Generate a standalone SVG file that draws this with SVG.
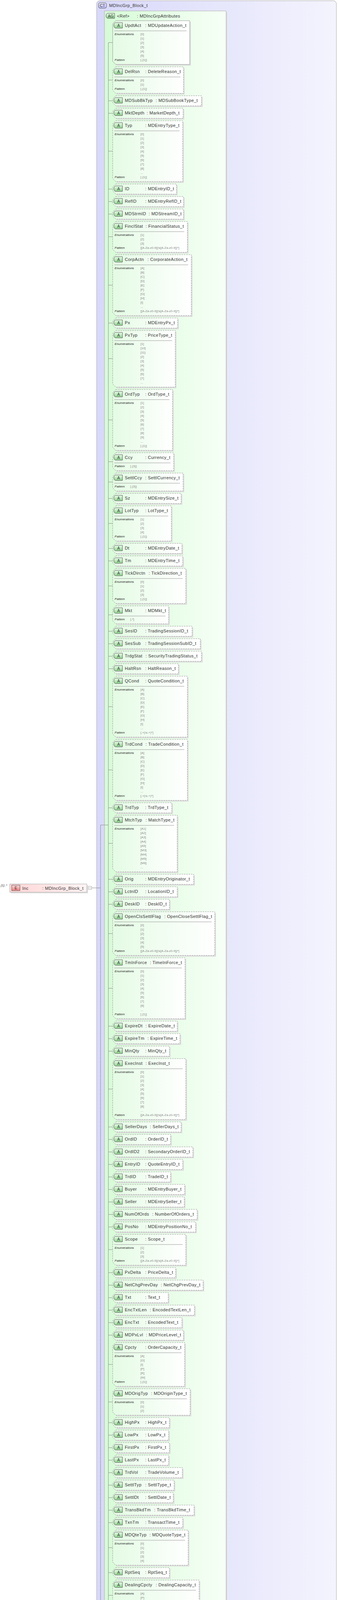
<svg xmlns="http://www.w3.org/2000/svg" xmlns:xlink="http://www.w3.org/1999/xlink" width="864" height="4548" viewBox="0 0 864 4548">
<style>
text{font-family:"Liberation Sans",Arial,sans-serif}
.t{font-size:11px;letter-spacing:.4px;fill:#333}
.l{font-size:8px;font-style:italic;fill:#222}
.v{font-size:8px;fill:#888}
.c{font-size:8px;font-style:italic;fill:#333}
.bt{font-size:10px;fill:#333;text-anchor:middle}
.bx{fill:url(#gw);stroke:#999;stroke-dasharray:4 2}
.bs{fill:url(#gw);stroke:#999}
.sh{fill:#dedede}
.sp{stroke:#999}
.ln{fill:none;stroke:#888}
.ex{fill:url(#gpk);stroke:#999;stroke-dasharray:4 2}
.pb{fill:#fff;stroke:#aaa}
</style>
<defs>
<linearGradient id="gw" x1="0" x2="1" y1="0" y2="0"><stop offset="0" stop-color="#e4fbe4"/><stop offset="1" stop-color="#ffffff"/></linearGradient>
<linearGradient id="gg" x1="0" x2="0" y1="0" y2="1"><stop offset="0" stop-color="#e8ffe8"/><stop offset="1" stop-color="#8fd08f"/></linearGradient>
<linearGradient id="gag" x1="0" x2="1" y1="0" y2="0"><stop offset="0" stop-color="#d6fbd6"/><stop offset="1" stop-color="#f7fff7"/></linearGradient>
<linearGradient id="gct" x1="0" x2="1" y1="0" y2="0"><stop offset="0" stop-color="#d8d8fa"/><stop offset="1" stop-color="#f4f4fe"/></linearGradient>
<linearGradient id="gcb" x1="0" x2="0" y1="0" y2="1"><stop offset="0" stop-color="#eeeeff"/><stop offset="1" stop-color="#b8b8f0"/></linearGradient>
<linearGradient id="gp" x1="0" x2="1" y1="0" y2="0"><stop offset="0" stop-color="#ffd6d6"/><stop offset="1" stop-color="#fff4f4"/></linearGradient>
<linearGradient id="gpk" x1="0" x2="1" y1="0" y2="0"><stop offset="0" stop-color="#ffe4e4"/><stop offset="1" stop-color="#ffffff"/></linearGradient>
<linearGradient id="gpb" x1="0" x2="0" y1="0" y2="1"><stop offset="0" stop-color="#ffdada"/><stop offset="1" stop-color="#f08080"/></linearGradient>
<linearGradient id="gs" x1="0" x2="1" y1="0" y2="0"><stop offset="0" stop-color="#d8d8d8"/><stop offset="1" stop-color="#f6f6f6"/></linearGradient>
<g id="ab"><path d="M296,5H313V19H296Q291,19 291,12Q291,5 296,5Z" fill="url(#gg)" stroke="#555"/><text x="303" y="16" class="bt">A</text></g>
<g id="eb"><rect x="0" y="0" width="21" height="14" fill="url(#gpb)" stroke="#555"/><text x="10.5" y="11" class="bt">E</text></g>
<g id="si"><circle cx="-6" cy="0" r="1.6" fill="#444"/><path d="M-6,0H-1M-1,-6V6M-1,-6H4M-1,0H4M-1,6H4" stroke="#444" fill="none"/><circle cx="4" cy="-6" r="1.6" fill="#444"/><circle cx="4" cy="0" r="1.6" fill="#444"/><circle cx="4" cy="6" r="1.6" fill="#444"/></g>
<g id="plus"><rect class="pb" x="0" y="0" width="8" height="8"/><path d="M2,4H6M4,2V6" stroke="#999"/></g>
</defs>

<g id="ct">
<rect x="247" y="2" width="613" height="4543" rx="8" fill="url(#gct)" stroke="#aaa"/>
<rect x="252" y="7" width="20" height="14" rx="4" fill="url(#gcb)" stroke="#555"/><text x="262" y="18" class="bt">CT</text>
<text class="t" x="279" y="18">MDIncGrp_Block_t</text>
</g>

<g id="inc">
<text class="c" x="2" y="2269">[1]..*</text>
<rect x="28" y="2266" width="197" height="21" fill="#e0e0e0"/>
<rect x="25" y="2263" width="197" height="21" fill="url(#gp)" stroke="#aaa"/>
<use xlink:href="#eb" x="30" y="2266"/>
<text class="t" x="57" y="2278">Inc</text><text class="t" x="108" y="2278">: MDIncGrp_Block_t</text>
<rect class="pb" x="226" y="2269" width="8" height="8"/><path d="M228,2273H232" stroke="#999"/>
</g>

<g id="ag">
<path d="M270,31H581V4200H278L270,4192Z" fill="#dcdcdc"/>
<path d="M267,28H578V4197H275L267,4189Z" fill="url(#gag)" stroke="#aaa"/>
<path d="M276,34H293V47H276Q271,47 271,40.5Q271,34 276,34Z" fill="url(#gg)" stroke="#555"/><text x="283" y="45" class="bt">AG</text>
<text class="t" x="299" y="45">&lt;Ref&gt;</text><text class="t" x="350" y="45">: MDIncGrpAttributes</text>
</g>

<g id="connectors">
<path class="ln" d="M234,2273H257M257,2112V4368M257,2112H277M257,4368H297M326,4368H425M277,109V4175"/>
<path class="ln" d="M277,109H288M277,205H288M277,258H288M277,290H288M277,387H288M277,484H288M277,516H288M277,548H288M277,606H288M277,730H288M277,827H288M277,918H288M277,1075H288M277,1182H288M277,1234H288M277,1276H288M277,1340H288M277,1404H288M277,1436H288M277,1500H288M277,1574H288M277,1616H288M277,1648H288M277,1680H288M277,1712H288M277,1809H288M277,1971H288M277,2068H288M277,2159H288M277,2251H288M277,2283H288M277,2315H288M277,2390H288M277,2530H288M277,2627H288M277,2659H288M277,2691H288M277,2788H288M277,2885H288M277,2917H288M277,2949H288M277,2981H288M277,3013H288M277,3045H288M277,3077H288M277,3109H288M277,3141H288M277,3199H288M277,3258H288M277,3290H288M277,3322H288M277,3354H288M277,3386H288M277,3418H288M277,3493H288M277,3589H288M277,3642H288M277,3674H288M277,3706H288M277,3738H288M277,3770H288M277,3802H288M277,3834H288M277,3866H288M277,3898H288M277,3962H288M277,4026H288M277,4084H288M277,4143H288M277,4175H288"/>
<path class="ln" d="M454,4241H489M454,4273H494M454,4305H494M454,4337H489M454,4368H489M454,4410H488M454,4442H488M454,4474H488M454,4506H488"/>
</g>

<g id="n1" transform="translate(0,53)"><path class="sh" transform="translate(3,3)" d="M296,0H485V112H296L288,104V8Z"/><path class="bs" d="M296,0H485V112H296L288,104V8Z"/><use xlink:href="#ab"/><text class="t" x="319" y="16">UpdtAct</text><text class="t" x="371" y="16">: MDUpdateAction_t</text><line class="sp" x1="292" y1="26" x2="477" y2="26"/><text class="l" x="293" y="37">Enumerations</text><text class="v" x="359" y="37">[0]<tspan x="359" dy="11">[1]</tspan><tspan x="359" dy="11">[2]</tspan><tspan x="359" dy="11">[3]</tspan><tspan x="359" dy="11">[4]</tspan><tspan x="359" dy="11">[5]</tspan></text><text class="l" x="293" y="103">Pattern</text><text class="v" x="359" y="103">[.{1}]</text></g>

<g id="n2" transform="translate(0,171)"><path class="sh" transform="translate(3,3)" d="M296,0H469V68H296L288,60V8Z"/><path class="bx" d="M296,0H469V68H296L288,60V8Z"/><use xlink:href="#ab"/><text class="t" x="319" y="16">DelRsn</text><text class="t" x="371" y="16">: DeleteReason_t</text><line class="sp" x1="292" y1="26" x2="461" y2="26"/><text class="l" x="293" y="37">Enumerations</text><text class="v" x="359" y="37">[0]<tspan x="359" dy="11">[1]</tspan></text><text class="l" x="293" y="59">Pattern</text><text class="v" x="359" y="59">[.{1}]</text></g>

<g id="n3" transform="translate(0,245)"><path class="sh" transform="translate(3,3)" d="M296,0H515V26H296L288,18V8Z"/><path class="bx" d="M296,0H515V26H296L288,18V8Z"/><use xlink:href="#ab"/><text class="t" x="319" y="16">MDSubBkTyp</text><text class="t" x="398" y="16">: MDSubBookType_t</text></g>
<g id="n4" transform="translate(0,277)"><path class="sh" transform="translate(3,3)" d="M296,0H468V26H296L288,18V8Z"/><path class="bx" d="M296,0H468V26H296L288,18V8Z"/><use xlink:href="#ab"/><text class="t" x="319" y="16">MktDepth</text><text class="t" x="375" y="16">: MarketDepth_t</text></g>

<g id="n5" transform="translate(0,309)"><path class="sh" transform="translate(3,3)" d="M296,0H467V156H296L288,148V8Z"/><path class="bx" d="M296,0H467V156H296L288,148V8Z"/><use xlink:href="#ab"/><text class="t" x="319" y="16">Typ</text><text class="t" x="371" y="16">: MDEntryType_t</text><line class="sp" x1="292" y1="26" x2="459" y2="26"/><text class="l" x="293" y="37">Enumerations</text><text class="v" x="359" y="37">[0]<tspan x="359" dy="11">[1]</tspan><tspan x="359" dy="11">[2]</tspan><tspan x="359" dy="11">[3]</tspan><tspan x="359" dy="11">[4]</tspan><tspan x="359" dy="11">[5]</tspan><tspan x="359" dy="11">[6]</tspan><tspan x="359" dy="11">[7]</tspan><tspan x="359" dy="11">[8]</tspan><tspan x="359" dy="11">...</tspan></text><text class="l" x="293" y="147">Pattern</text><text class="v" x="359" y="147">[.{1}]</text></g>

<g id="n6" transform="translate(0,471)"><path class="sh" transform="translate(3,3)" d="M296,0H451V26H296L288,18V8Z"/><path class="bx" d="M296,0H451V26H296L288,18V8Z"/><use xlink:href="#ab"/><text class="t" x="319" y="16">ID</text><text class="t" x="371" y="16">: MDEntryID_t</text></g>
<g id="n7" transform="translate(0,503)"><path class="sh" transform="translate(3,3)" d="M296,0H469V26H296L288,18V8Z"/><path class="bx" d="M296,0H469V26H296L288,18V8Z"/><use xlink:href="#ab"/><text class="t" x="319" y="16">RefID</text><text class="t" x="371" y="16">: MDEntryRefID_t</text></g>
<g id="n8" transform="translate(0,535)"><path class="sh" transform="translate(3,3)" d="M296,0H469V26H296L288,18V8Z"/><path class="bx" d="M296,0H469V26H296L288,18V8Z"/><use xlink:href="#ab"/><text class="t" x="319" y="16">MDStrmID</text><text class="t" x="380" y="16">: MDStreamID_t</text></g>

<g id="n9" transform="translate(0,567)"><path class="sh" transform="translate(3,3)" d="M296,0H479V79H296L288,71V8Z"/><path class="bx" d="M296,0H479V79H296L288,71V8Z"/><use xlink:href="#ab"/><text class="t" x="319" y="16">FinclStat</text><text class="t" x="372" y="16">: FinancialStatus_t</text><line class="sp" x1="292" y1="26" x2="471" y2="26"/><text class="l" x="293" y="37">Enumerations</text><text class="v" x="359" y="37">[1]<tspan x="359" dy="11">[2]</tspan><tspan x="359" dy="11">[3]</tspan></text><text class="l" x="293" y="70">Pattern</text><text class="v" x="359" y="70">[[A-Za-z0-9](\s[A-Za-z0-9])*]</text></g>

<g id="n10" transform="translate(0,652)"><path class="sh" transform="translate(3,3)" d="M296,0H489V156H296L288,148V8Z"/><path class="bx" d="M296,0H489V156H296L288,148V8Z"/><use xlink:href="#ab"/><text class="t" x="319" y="16">CorpActn</text><text class="t" x="377" y="16">: CorporateAction_t</text><line class="sp" x1="292" y1="26" x2="481" y2="26"/><text class="l" x="293" y="37">Enumerations</text><text class="v" x="359" y="37">[A]<tspan x="359" dy="11">[B]</tspan><tspan x="359" dy="11">[C]</tspan><tspan x="359" dy="11">[D]</tspan><tspan x="359" dy="11">[E]</tspan><tspan x="359" dy="11">[F]</tspan><tspan x="359" dy="11">[G]</tspan><tspan x="359" dy="11">[H]</tspan><tspan x="359" dy="11">[I]</tspan><tspan x="359" dy="11">...</tspan></text><text class="l" x="293" y="147">Pattern</text><text class="v" x="359" y="147">[[A-Za-z0-9](\s[A-Za-z0-9])*]</text></g>

<g id="n11" transform="translate(0,814)"><path class="sh" transform="translate(3,3)" d="M296,0H454V26H296L288,18V8Z"/><path class="bx" d="M296,0H454V26H296L288,18V8Z"/><use xlink:href="#ab"/><text class="t" x="319" y="16">Px</text><text class="t" x="371" y="16">: MDEntryPx_t</text></g>

<g id="n12" transform="translate(0,846)"><path class="sh" transform="translate(3,3)" d="M296,0H448V145H296L288,137V8Z"/><path class="bx" d="M296,0H448V145H296L288,137V8Z"/><use xlink:href="#ab"/><text class="t" x="319" y="16">PxTyp</text><text class="t" x="371" y="16">: PriceType_t</text><line class="sp" x1="292" y1="26" x2="440" y2="26"/><text class="l" x="293" y="37">Enumerations</text><text class="v" x="359" y="37">[1]<tspan x="359" dy="11">[10]</tspan><tspan x="359" dy="11">[11]</tspan><tspan x="359" dy="11">[2]</tspan><tspan x="359" dy="11">[3]</tspan><tspan x="359" dy="11">[4]</tspan><tspan x="359" dy="11">[5]</tspan><tspan x="359" dy="11">[6]</tspan><tspan x="359" dy="11">[7]</tspan><tspan x="359" dy="11">...</tspan></text></g>

<g id="n13" transform="translate(0,997)"><path class="sh" transform="translate(3,3)" d="M296,0H441V156H296L288,148V8Z"/><path class="bx" d="M296,0H441V156H296L288,148V8Z"/><use xlink:href="#ab"/><text class="t" x="319" y="16">OrdTyp</text><text class="t" x="371" y="16">: OrdType_t</text><line class="sp" x1="292" y1="26" x2="433" y2="26"/><text class="l" x="293" y="37">Enumerations</text><text class="v" x="359" y="37">[1]<tspan x="359" dy="11">[2]</tspan><tspan x="359" dy="11">[3]</tspan><tspan x="359" dy="11">[4]</tspan><tspan x="359" dy="11">[5]</tspan><tspan x="359" dy="11">[6]</tspan><tspan x="359" dy="11">[7]</tspan><tspan x="359" dy="11">[8]</tspan><tspan x="359" dy="11">[9]</tspan><tspan x="359" dy="11">...</tspan></text><text class="l" x="293" y="147">Pattern</text><text class="v" x="359" y="147">[.{1}]</text></g>

<g id="n14" transform="translate(0,1159)"><path class="sh" transform="translate(3,3)" d="M296,0H444V46H296L288,38V8Z"/><path class="bx" d="M296,0H444V46H296L288,38V8Z"/><use xlink:href="#ab"/><text class="t" x="319" y="16">Ccy</text><text class="t" x="371" y="16">: Currency_t</text><line class="sp" x1="292" y1="26" x2="436" y2="26"/><text class="l" x="293" y="37">Pattern</text><text class="v" x="333" y="37">[.{3}]</text></g>
<g id="n15" transform="translate(0,1211)"><path class="sh" transform="translate(3,3)" d="M296,0H468V46H296L288,38V8Z"/><path class="bx" d="M296,0H468V46H296L288,38V8Z"/><use xlink:href="#ab"/><text class="t" x="319" y="16">SettlCcy</text><text class="t" x="371" y="16">: SettlCurrency_t</text><line class="sp" x1="292" y1="26" x2="460" y2="26"/><text class="l" x="293" y="37">Pattern</text><text class="v" x="333" y="37">[.{3}]</text></g>
<g id="n16" transform="translate(0,1263)"><path class="sh" transform="translate(3,3)" d="M296,0H463V26H296L288,18V8Z"/><path class="bx" d="M296,0H463V26H296L288,18V8Z"/><use xlink:href="#ab"/><text class="t" x="319" y="16">Sz</text><text class="t" x="371" y="16">: MDEntrySize_t</text></g>

<g id="n17" transform="translate(0,1295)"><path class="sh" transform="translate(3,3)" d="M296,0H438V90H296L288,82V8Z"/><path class="bx" d="M296,0H438V90H296L288,82V8Z"/><use xlink:href="#ab"/><text class="t" x="319" y="16">LotTyp</text><text class="t" x="371" y="16">: LotType_t</text><line class="sp" x1="292" y1="26" x2="430" y2="26"/><text class="l" x="293" y="37">Enumerations</text><text class="v" x="359" y="37">[1]<tspan x="359" dy="11">[2]</tspan><tspan x="359" dy="11">[3]</tspan><tspan x="359" dy="11">[4]</tspan></text><text class="l" x="293" y="81">Pattern</text><text class="v" x="359" y="81">[.{1}]</text></g>
<g id="n18" transform="translate(0,1391)"><path class="sh" transform="translate(3,3)" d="M296,0H465V26H296L288,18V8Z"/><path class="bx" d="M296,0H465V26H296L288,18V8Z"/><use xlink:href="#ab"/><text class="t" x="319" y="16">Dt</text><text class="t" x="371" y="16">: MDEntryDate_t</text></g>
<g id="n19" transform="translate(0,1423)"><path class="sh" transform="translate(3,3)" d="M296,0H467V26H296L288,18V8Z"/><path class="bx" d="M296,0H467V26H296L288,18V8Z"/><use xlink:href="#ab"/><text class="t" x="319" y="16">Tm</text><text class="t" x="371" y="16">: MDEntryTime_t</text></g>
<g id="n20" transform="translate(0,1455)"><path class="sh" transform="translate(3,3)" d="M296,0H475V90H296L288,82V8Z"/><path class="bx" d="M296,0H475V90H296L288,82V8Z"/><use xlink:href="#ab"/><text class="t" x="319" y="16">TickDirctn</text><text class="t" x="380" y="16">: TickDirection_t</text><line class="sp" x1="292" y1="26" x2="467" y2="26"/><text class="l" x="293" y="37">Enumerations</text><text class="v" x="359" y="37">[0]<tspan x="359" dy="11">[1]</tspan><tspan x="359" dy="11">[2]</tspan><tspan x="359" dy="11">[3]</tspan></text><text class="l" x="293" y="81">Pattern</text><text class="v" x="359" y="81">[.{1}]</text></g>
<g id="n21" transform="translate(0,1551)"><path class="sh" transform="translate(3,3)" d="M296,0H431V46H296L288,38V8Z"/><path class="bx" d="M296,0H431V46H296L288,38V8Z"/><use xlink:href="#ab"/><text class="t" x="319" y="16">Mkt</text><text class="t" x="371" y="16">: MDMkt_t</text><line class="sp" x1="292" y1="26" x2="423" y2="26"/><text class="l" x="293" y="37">Pattern</text><text class="v" x="333" y="37">[.*]</text></g>
<g id="n22" transform="translate(0,1603)"><path class="sh" transform="translate(3,3)" d="M296,0H491V26H296L288,18V8Z"/><path class="bx" d="M296,0H491V26H296L288,18V8Z"/><use xlink:href="#ab"/><text class="t" x="319" y="16">SesID</text><text class="t" x="371" y="16">: TradingSessionID_t</text></g>
<g id="n23" transform="translate(0,1635)"><path class="sh" transform="translate(3,3)" d="M296,0H512V26H296L288,18V8Z"/><path class="bx" d="M296,0H512V26H296L288,18V8Z"/><use xlink:href="#ab"/><text class="t" x="319" y="16">SesSub</text><text class="t" x="371" y="16">: TradingSessionSubID_t</text></g>
<g id="n24" transform="translate(0,1667)"><path class="sh" transform="translate(3,3)" d="M296,0H515V26H296L288,18V8Z"/><path class="bx" d="M296,0H515V26H296L288,18V8Z"/><use xlink:href="#ab"/><text class="t" x="319" y="16">TrdgStat</text><text class="t" x="372" y="16">: SecurityTradingStatus_t</text></g>
<g id="n25" transform="translate(0,1699)"><path class="sh" transform="translate(3,3)" d="M296,0H456V26H296L288,18V8Z"/><path class="bx" d="M296,0H456V26H296L288,18V8Z"/><use xlink:href="#ab"/><text class="t" x="319" y="16">HaltRsn</text><text class="t" x="371" y="16">: HaltReason_t</text></g>

<g id="n26" transform="translate(0,1731)"><path class="sh" transform="translate(3,3)" d="M296,0H479V156H296L288,148V8Z"/><path class="bx" d="M296,0H479V156H296L288,148V8Z"/><use xlink:href="#ab"/><text class="t" x="319" y="16">QCond</text><text class="t" x="371" y="16">: QuoteCondition_t</text><line class="sp" x1="292" y1="26" x2="471" y2="26"/><text class="l" x="293" y="37">Enumerations</text><text class="v" x="359" y="37">[A]<tspan x="359" dy="11">[B]</tspan><tspan x="359" dy="11">[C]</tspan><tspan x="359" dy="11">[D]</tspan><tspan x="359" dy="11">[E]</tspan><tspan x="359" dy="11">[F]</tspan><tspan x="359" dy="11">[G]</tspan><tspan x="359" dy="11">[H]</tspan><tspan x="359" dy="11">[I]</tspan><tspan x="359" dy="11">...</tspan></text><text class="l" x="293" y="147">Pattern</text><text class="v" x="359" y="147">[.+(\s.+)*]</text></g>
<g id="n27" transform="translate(0,1893)"><path class="sh" transform="translate(3,3)" d="M296,0H479V156H296L288,148V8Z"/><path class="bx" d="M296,0H479V156H296L288,148V8Z"/><use xlink:href="#ab"/><text class="t" x="319" y="16">TrdCond</text><text class="t" x="372" y="16">: TradeCondition_t</text><line class="sp" x1="292" y1="26" x2="471" y2="26"/><text class="l" x="293" y="37">Enumerations</text><text class="v" x="359" y="37">[A]<tspan x="359" dy="11">[B]</tspan><tspan x="359" dy="11">[C]</tspan><tspan x="359" dy="11">[D]</tspan><tspan x="359" dy="11">[E]</tspan><tspan x="359" dy="11">[F]</tspan><tspan x="359" dy="11">[G]</tspan><tspan x="359" dy="11">[H]</tspan><tspan x="359" dy="11">[I]</tspan><tspan x="359" dy="11">...</tspan></text><text class="l" x="293" y="147">Pattern</text><text class="v" x="359" y="147">[.+(\s.+)*]</text></g>
<g id="n28" transform="translate(0,2055)"><path class="sh" transform="translate(3,3)" d="M296,0H439V26H296L288,18V8Z"/><path class="bx" d="M296,0H439V26H296L288,18V8Z"/><use xlink:href="#ab"/><text class="t" x="319" y="16">TrdTyp</text><text class="t" x="371" y="16">: TrdType_t</text></g>
<g id="n29" transform="translate(0,2087)"><path class="sh" transform="translate(3,3)" d="M296,0H453V145H296L288,137V8Z"/><path class="bx" d="M296,0H453V145H296L288,137V8Z"/><use xlink:href="#ab"/><text class="t" x="319" y="16">MtchTyp</text><text class="t" x="372" y="16">: MatchType_t</text><line class="sp" x1="292" y1="26" x2="445" y2="26"/><text class="l" x="293" y="37">Enumerations</text><text class="v" x="359" y="37">[A1]<tspan x="359" dy="11">[A2]</tspan><tspan x="359" dy="11">[A3]</tspan><tspan x="359" dy="11">[A4]</tspan><tspan x="359" dy="11">[A5]</tspan><tspan x="359" dy="11">[M3]</tspan><tspan x="359" dy="11">[M4]</tspan><tspan x="359" dy="11">[M5]</tspan><tspan x="359" dy="11">[M6]</tspan><tspan x="359" dy="11">...</tspan></text></g>
<g id="n30" transform="translate(0,2238)"><path class="sh" transform="translate(3,3)" d="M296,0H495V26H296L288,18V8Z"/><path class="bx" d="M296,0H495V26H296L288,18V8Z"/><use xlink:href="#ab"/><text class="t" x="319" y="16">Orig</text><text class="t" x="371" y="16">: MDEntryOriginator_t</text></g>
<g id="n31" transform="translate(0,2270)"><path class="sh" transform="translate(3,3)" d="M296,0H453V26H296L288,18V8Z"/><path class="bx" d="M296,0H453V26H296L288,18V8Z"/><use xlink:href="#ab"/><text class="t" x="319" y="16">LctnID</text><text class="t" x="371" y="16">: LocationID_t</text></g>
<g id="n32" transform="translate(0,2302)"><path class="sh" transform="translate(3,3)" d="M296,0H433V26H296L288,18V8Z"/><path class="bx" d="M296,0H433V26H296L288,18V8Z"/><use xlink:href="#ab"/><text class="t" x="319" y="16">DeskID</text><text class="t" x="371" y="16">: DeskID_t</text></g>
<g id="n33" transform="translate(0,2334)"><path class="sh" transform="translate(3,3)" d="M296,0H549V112H296L288,104V8Z"/><path class="bx" d="M296,0H549V112H296L288,104V8Z"/><use xlink:href="#ab"/><text class="t" x="319" y="16">OpenClsSettlFlag</text><text class="t" x="420" y="16">: OpenCloseSettlFlag_t</text><line class="sp" x1="292" y1="26" x2="541" y2="26"/><text class="l" x="293" y="37">Enumerations</text><text class="v" x="359" y="37">[0]<tspan x="359" dy="11">[1]</tspan><tspan x="359" dy="11">[2]</tspan><tspan x="359" dy="11">[3]</tspan><tspan x="359" dy="11">[4]</tspan><tspan x="359" dy="11">[5]</tspan></text><text class="l" x="293" y="103">Pattern</text><text class="v" x="359" y="103">[[A-Za-z0-9](\s[A-Za-z0-9])*]</text></g>
<g id="n34" transform="translate(0,2452)"><path class="sh" transform="translate(3,3)" d="M296,0H473V156H296L288,148V8Z"/><path class="bx" d="M296,0H473V156H296L288,148V8Z"/><use xlink:href="#ab"/><text class="t" x="319" y="16">TmInForce</text><text class="t" x="383" y="16">: TimeInForce_t</text><line class="sp" x1="292" y1="26" x2="465" y2="26"/><text class="l" x="293" y="37">Enumerations</text><text class="v" x="359" y="37">[0]<tspan x="359" dy="11">[1]</tspan><tspan x="359" dy="11">[2]</tspan><tspan x="359" dy="11">[3]</tspan><tspan x="359" dy="11">[4]</tspan><tspan x="359" dy="11">[5]</tspan><tspan x="359" dy="11">[6]</tspan><tspan x="359" dy="11">[7]</tspan><tspan x="359" dy="11">[8]</tspan><tspan x="359" dy="11">...</tspan></text><text class="l" x="293" y="147">Pattern</text><text class="v" x="359" y="147">[.{1}]</text></g>
<g id="n35" transform="translate(0,2614)"><path class="sh" transform="translate(3,3)" d="M296,0H453V26H296L288,18V8Z"/><path class="bx" d="M296,0H453V26H296L288,18V8Z"/><use xlink:href="#ab"/><text class="t" x="319" y="16">ExpireDt</text><text class="t" x="372" y="16">: ExpireDate_t</text></g>
<g id="n36" transform="translate(0,2646)"><path class="sh" transform="translate(3,3)" d="M296,0H460V26H296L288,18V8Z"/><path class="bx" d="M296,0H460V26H296L288,18V8Z"/><use xlink:href="#ab"/><text class="t" x="319" y="16">ExpireTm</text><text class="t" x="377" y="16">: ExpireTime_t</text></g>
<g id="n37" transform="translate(0,2678)"><path class="sh" transform="translate(3,3)" d="M296,0H433V26H296L288,18V8Z"/><path class="bx" d="M296,0H433V26H296L288,18V8Z"/><use xlink:href="#ab"/><text class="t" x="319" y="16">MinQty</text><text class="t" x="371" y="16">: MinQty_t</text></g>
<g id="n38" transform="translate(0,2710)"><path class="sh" transform="translate(3,3)" d="M296,0H475V156H296L288,148V8Z"/><path class="bx" d="M296,0H475V156H296L288,148V8Z"/><use xlink:href="#ab"/><text class="t" x="319" y="16">ExecInst</text><text class="t" x="372" y="16">: ExecInst_t</text><line class="sp" x1="292" y1="26" x2="467" y2="26"/><text class="l" x="293" y="37">Enumerations</text><text class="v" x="359" y="37">[0]<tspan x="359" dy="11">[1]</tspan><tspan x="359" dy="11">[2]</tspan><tspan x="359" dy="11">[3]</tspan><tspan x="359" dy="11">[4]</tspan><tspan x="359" dy="11">[5]</tspan><tspan x="359" dy="11">[6]</tspan><tspan x="359" dy="11">[7]</tspan><tspan x="359" dy="11">[8]</tspan><tspan x="359" dy="11">...</tspan></text><text class="l" x="293" y="147">Pattern</text><text class="v" x="359" y="147">[[A-Za-z0-9](\s[A-Za-z0-9])*]</text></g>
<g id="n39" transform="translate(0,2872)"><path class="sh" transform="translate(3,3)" d="M296,0H463V26H296L288,18V8Z"/><path class="bx" d="M296,0H463V26H296L288,18V8Z"/><use xlink:href="#ab"/><text class="t" x="319" y="16">SellerDays</text><text class="t" x="383" y="16">: SellerDays_t</text></g>
<g id="n40" transform="translate(0,2904)"><path class="sh" transform="translate(3,3)" d="M296,0H436V26H296L288,18V8Z"/><path class="bx" d="M296,0H436V26H296L288,18V8Z"/><use xlink:href="#ab"/><text class="t" x="319" y="16">OrdID</text><text class="t" x="371" y="16">: OrderID_t</text></g>
<g id="n41" transform="translate(0,2936)"><path class="sh" transform="translate(3,3)" d="M296,0H493V26H296L288,18V8Z"/><path class="bx" d="M296,0H493V26H296L288,18V8Z"/><use xlink:href="#ab"/><text class="t" x="319" y="16">OrdID2</text><text class="t" x="371" y="16">: SecondaryOrderID_t</text></g>
<g id="n42" transform="translate(0,2968)"><path class="sh" transform="translate(3,3)" d="M296,0H467V26H296L288,18V8Z"/><path class="bx" d="M296,0H467V26H296L288,18V8Z"/><use xlink:href="#ab"/><text class="t" x="319" y="16">EntryID</text><text class="t" x="371" y="16">: QuoteEntryID_t</text></g>
<g id="n43" transform="translate(0,3000)"><path class="sh" transform="translate(3,3)" d="M296,0H436V26H296L288,18V8Z"/><path class="bx" d="M296,0H436V26H296L288,18V8Z"/><use xlink:href="#ab"/><text class="t" x="319" y="16">TrdID</text><text class="t" x="371" y="16">: TradeID_t</text></g>
<g id="n44" transform="translate(0,3032)"><path class="sh" transform="translate(3,3)" d="M296,0H472V26H296L288,18V8Z"/><path class="bx" d="M296,0H472V26H296L288,18V8Z"/><use xlink:href="#ab"/><text class="t" x="319" y="16">Buyer</text><text class="t" x="371" y="16">: MDEntryBuyer_t</text></g>
<g id="n45" transform="translate(0,3064)"><path class="sh" transform="translate(3,3)" d="M296,0H471V26H296L288,18V8Z"/><path class="bx" d="M296,0H471V26H296L288,18V8Z"/><use xlink:href="#ab"/><text class="t" x="319" y="16">Seller</text><text class="t" x="371" y="16">: MDEntrySeller_t</text></g>
<g id="n46" transform="translate(0,3096)"><path class="sh" transform="translate(3,3)" d="M296,0H504V26H296L288,18V8Z"/><path class="bx" d="M296,0H504V26H296L288,18V8Z"/><use xlink:href="#ab"/><text class="t" x="319" y="16">NumOfOrds</text><text class="t" x="389" y="16">: NumberOfOrders_t</text></g>
<g id="n47" transform="translate(0,3128)"><path class="sh" transform="translate(3,3)" d="M296,0H500V26H296L288,18V8Z"/><path class="bx" d="M296,0H500V26H296L288,18V8Z"/><use xlink:href="#ab"/><text class="t" x="319" y="16">PosNo</text><text class="t" x="371" y="16">: MDEntryPositionNo_t</text></g>
<g id="n48" transform="translate(0,3160)"><path class="sh" transform="translate(3,3)" d="M296,0H475V79H296L288,71V8Z"/><path class="bx" d="M296,0H475V79H296L288,71V8Z"/><use xlink:href="#ab"/><text class="t" x="319" y="16">Scope</text><text class="t" x="371" y="16">: Scope_t</text><line class="sp" x1="292" y1="26" x2="467" y2="26"/><text class="l" x="293" y="37">Enumerations</text><text class="v" x="359" y="37">[1]<tspan x="359" dy="11">[2]</tspan><tspan x="359" dy="11">[3]</tspan></text><text class="l" x="293" y="70">Pattern</text><text class="v" x="359" y="70">[[A-Za-z0-9](\s[A-Za-z0-9])*]</text></g>
<g id="n49" transform="translate(0,3245)"><path class="sh" transform="translate(3,3)" d="M296,0H449V26H296L288,18V8Z"/><path class="bx" d="M296,0H449V26H296L288,18V8Z"/><use xlink:href="#ab"/><text class="t" x="319" y="16">PxDelta</text><text class="t" x="371" y="16">: PriceDelta_t</text></g>
<g id="n50" transform="translate(0,3277)"><path class="sh" transform="translate(3,3)" d="M296,0H519V26H296L288,18V8Z"/><path class="bx" d="M296,0H519V26H296L288,18V8Z"/><use xlink:href="#ab"/><text class="t" x="319" y="16">NetChgPrevDay</text><text class="t" x="411" y="16">: NetChgPrevDay_t</text></g>
<g id="n51" transform="translate(0,3309)"><path class="sh" transform="translate(3,3)" d="M296,0H430V26H296L288,18V8Z"/><path class="bx" d="M296,0H430V26H296L288,18V8Z"/><use xlink:href="#ab"/><text class="t" x="319" y="16">Txt</text><text class="t" x="371" y="16">: Text_t</text></g>
<g id="n52" transform="translate(0,3341)"><path class="sh" transform="translate(3,3)" d="M296,0H497V26H296L288,18V8Z"/><path class="bx" d="M296,0H497V26H296L288,18V8Z"/><use xlink:href="#ab"/><text class="t" x="319" y="16">EncTxtLen</text><text class="t" x="383" y="16">: EncodedTextLen_t</text></g>
<g id="n53" transform="translate(0,3373)"><path class="sh" transform="translate(3,3)" d="M296,0H465V26H296L288,18V8Z"/><path class="bx" d="M296,0H465V26H296L288,18V8Z"/><use xlink:href="#ab"/><text class="t" x="319" y="16">EncTxt</text><text class="t" x="371" y="16">: EncodedText_t</text></g>
<g id="n54" transform="translate(0,3405)"><path class="sh" transform="translate(3,3)" d="M296,0H469V26H296L288,18V8Z"/><path class="bx" d="M296,0H469V26H296L288,18V8Z"/><use xlink:href="#ab"/><text class="t" x="319" y="16">MDPxLvl</text><text class="t" x="373" y="16">: MDPriceLevel_t</text></g>
<g id="n55" transform="translate(0,3437)"><path class="sh" transform="translate(3,3)" d="M296,0H472V112H296L288,104V8Z"/><path class="bx" d="M296,0H472V112H296L288,104V8Z"/><use xlink:href="#ab"/><text class="t" x="319" y="16">Cpcty</text><text class="t" x="371" y="16">: OrderCapacity_t</text><line class="sp" x1="292" y1="26" x2="464" y2="26"/><text class="l" x="293" y="37">Enumerations</text><text class="v" x="359" y="37">[A]<tspan x="359" dy="11">[G]</tspan><tspan x="359" dy="11">[I]</tspan><tspan x="359" dy="11">[P]</tspan><tspan x="359" dy="11">[R]</tspan><tspan x="359" dy="11">[W]</tspan></text><text class="l" x="293" y="103">Pattern</text><text class="v" x="359" y="103">[.{1}]</text></g>
<g id="n56" transform="translate(0,3555)"><path class="sh" transform="translate(3,3)" d="M296,0H486V68H296L288,60V8Z"/><path class="bx" d="M296,0H486V68H296L288,60V8Z"/><use xlink:href="#ab"/><text class="t" x="319" y="16">MDOrigTyp</text><text class="t" x="386" y="16">: MDOriginType_t</text><line class="sp" x1="292" y1="26" x2="478" y2="26"/><text class="l" x="293" y="37">Enumerations</text><text class="v" x="359" y="37">[0]<tspan x="359" dy="11">[1]</tspan><tspan x="359" dy="11">[2]</tspan></text></g>
<g id="n57" transform="translate(0,3629)"><path class="sh" transform="translate(3,3)" d="M296,0H433V26H296L288,18V8Z"/><path class="bx" d="M296,0H433V26H296L288,18V8Z"/><use xlink:href="#ab"/><text class="t" x="319" y="16">HighPx</text><text class="t" x="371" y="16">: HighPx_t</text></g>
<g id="n58" transform="translate(0,3661)"><path class="sh" transform="translate(3,3)" d="M296,0H431V26H296L288,18V8Z"/><path class="bx" d="M296,0H431V26H296L288,18V8Z"/><use xlink:href="#ab"/><text class="t" x="319" y="16">LowPx</text><text class="t" x="371" y="16">: LowPx_t</text></g>
<g id="n59" transform="translate(0,3693)"><path class="sh" transform="translate(3,3)" d="M296,0H433V26H296L288,18V8Z"/><path class="bx" d="M296,0H433V26H296L288,18V8Z"/><use xlink:href="#ab"/><text class="t" x="319" y="16">FirstPx</text><text class="t" x="371" y="16">: FirstPx_t</text></g>
<g id="n60" transform="translate(0,3725)"><path class="sh" transform="translate(3,3)" d="M296,0H431V26H296L288,18V8Z"/><path class="bx" d="M296,0H431V26H296L288,18V8Z"/><use xlink:href="#ab"/><text class="t" x="319" y="16">LastPx</text><text class="t" x="371" y="16">: LastPx_t</text></g>
<g id="n61" transform="translate(0,3757)"><path class="sh" transform="translate(3,3)" d="M296,0H466V26H296L288,18V8Z"/><path class="bx" d="M296,0H466V26H296L288,18V8Z"/><use xlink:href="#ab"/><text class="t" x="319" y="16">TrdVol</text><text class="t" x="371" y="16">: TradeVolume_t</text></g>
<g id="n62" transform="translate(0,3789)"><path class="sh" transform="translate(3,3)" d="M296,0H445V26H296L288,18V8Z"/><path class="bx" d="M296,0H445V26H296L288,18V8Z"/><use xlink:href="#ab"/><text class="t" x="319" y="16">SettlTyp</text><text class="t" x="371" y="16">: SettlType_t</text></g>
<g id="n63" transform="translate(0,3821)"><path class="sh" transform="translate(3,3)" d="M296,0H443V26H296L288,18V8Z"/><path class="bx" d="M296,0H443V26H296L288,18V8Z"/><use xlink:href="#ab"/><text class="t" x="319" y="16">SettlDt</text><text class="t" x="371" y="16">: SettlDate_t</text></g>
<g id="n64" transform="translate(0,3853)"><path class="sh" transform="translate(3,3)" d="M296,0H496V26H296L288,18V8Z"/><path class="bx" d="M296,0H496V26H296L288,18V8Z"/><use xlink:href="#ab"/><text class="t" x="319" y="16">TransBkdTm</text><text class="t" x="394" y="16">: TransBkdTime_t</text></g>
<g id="n65" transform="translate(0,3885)"><path class="sh" transform="translate(3,3)" d="M296,0H467V26H296L288,18V8Z"/><path class="bx" d="M296,0H467V26H296L288,18V8Z"/><use xlink:href="#ab"/><text class="t" x="319" y="16">TxnTm</text><text class="t" x="371" y="16">: TransactTime_t</text></g>
<g id="n66" transform="translate(0,3917)"><path class="sh" transform="translate(3,3)" d="M296,0H481V90H296L288,82V8Z"/><path class="bx" d="M296,0H481V90H296L288,82V8Z"/><use xlink:href="#ab"/><text class="t" x="319" y="16">MDQteTyp</text><text class="t" x="382" y="16">: MDQuoteType_t</text><line class="sp" x1="292" y1="26" x2="473" y2="26"/><text class="l" x="293" y="37">Enumerations</text><text class="v" x="359" y="37">[0]<tspan x="359" dy="11">[1]</tspan><tspan x="359" dy="11">[2]</tspan><tspan x="359" dy="11">[3]</tspan><tspan x="359" dy="11">[4]</tspan></text></g>
<g id="n67" transform="translate(0,4013)"><path class="sh" transform="translate(3,3)" d="M296,0H433V26H296L288,18V8Z"/><path class="bx" d="M296,0H433V26H296L288,18V8Z"/><use xlink:href="#ab"/><text class="t" x="319" y="16">RptSeq</text><text class="t" x="371" y="16">: RptSeq_t</text></g>
<g id="n68" transform="translate(0,4045)"><path class="sh" transform="translate(3,3)" d="M296,0H509V79H296L288,71V8Z"/><path class="bx" d="M296,0H509V79H296L288,71V8Z"/><use xlink:href="#ab"/><text class="t" x="319" y="16">DealingCpcty</text><text class="t" x="398" y="16">: DealingCapacity_t</text><line class="sp" x1="292" y1="26" x2="501" y2="26"/><text class="l" x="293" y="37">Enumerations</text><text class="v" x="359" y="37">[A]<tspan x="359" dy="11">[P]</tspan><tspan x="359" dy="11">[R]</tspan></text><text class="l" x="293" y="70">Pattern</text><text class="v" x="359" y="70">[.{1}]</text></g>
<g id="n69" transform="translate(0,4130)"><path class="sh" transform="translate(3,3)" d="M296,0H527V26H296L288,18V8Z"/><path class="bx" d="M296,0H527V26H296L288,18V8Z"/><use xlink:href="#ab"/><text class="t" x="319" y="16">MDEntrySpotRt</text><text class="t" x="409" y="16">: MDEntrySpotRate_t</text></g>
<g id="n70" transform="translate(0,4162)"><path class="sh" transform="translate(3,3)" d="M296,0H568V26H296L288,18V8Z"/><path class="bx" d="M296,0H568V26H296L288,18V8Z"/><use xlink:href="#ab"/><text class="t" x="319" y="16">MDEntryFwdPnts</text><text class="t" x="419" y="16">: MDEntryForwardPoints_t</text></g>

<g id="seq1">
<text class="c" x="268" y="4363">[1]..[1]</text>
<rect x="300" y="4359" width="29" height="25" fill="#d8d8d8"/>
<rect x="297" y="4356" width="29" height="25" fill="url(#gs)" stroke="#999"/>
<use xlink:href="#si" x="312" y="4368"/>
</g>

<g id="grp">
<rect x="378" y="4206" width="477" height="330" fill="#dcdcdc"/>
<rect x="375" y="4203" width="477" height="330" fill="url(#gp)" stroke="#aaa"/>
<text class="c" x="345" y="4210">[1]..[1]</text>
<rect x="380" y="4209" width="21" height="14" fill="url(#gpb)" stroke="#555"/><text x="390.5" y="4220" class="bt">G</text>
<text class="t" x="407" y="4220">&lt;Ref&gt;</text><text class="t" x="457" y="4220">: MDIncGrpElements</text>
</g>

<g id="seq2">
<text class="c" x="394" y="4371">[1]..[1]</text>
<rect x="425" y="4228" width="29" height="295" fill="url(#gs)" stroke="#999"/>
<use xlink:href="#si" x="440" y="4375"/>
</g>

<g id="e1"><text class="c" x="469" y="4236">0..1</text><rect class="sh" x="492" y="4231" width="202" height="25"/><rect class="ex" x="489" y="4228" width="202" height="25"/><use xlink:href="#eb" x="494" y="4234"/><text class="t" x="521" y="4245">Instrmt</text><text class="t" x="572" y="4245">: Instrument_Block_t</text><use xlink:href="#plus" x="694" y="4237"/></g>
<g id="e2"><text class="c" x="469" y="4268">0..[1]</text><rect class="sh" x="497" y="4263" width="225" height="25"/><rect class="ex" x="494" y="4260" width="225" height="25"/><use xlink:href="#eb" x="499" y="4266"/><text class="t" x="526" y="4277">Undly</text><text class="t" x="577" y="4277">: UndInstrmtGrp_Block_t</text><use xlink:href="#plus" x="722" y="4269"/></g>
<g id="e3"><text class="c" x="469" y="4300">0..[1]</text><rect class="sh" x="497" y="4295" width="223" height="25"/><rect class="ex" x="494" y="4292" width="223" height="25"/><use xlink:href="#eb" x="499" y="4298"/><text class="t" x="526" y="4309">Leg</text><text class="t" x="577" y="4309">: InstrmtLegGrp_Block_t</text><use xlink:href="#plus" x="720" y="4301"/></g>
<g id="e4"><text class="c" x="469" y="4332">0..1</text><rect class="sh" x="492" y="4327" width="195" height="25"/><rect class="ex" x="489" y="4324" width="195" height="25"/><use xlink:href="#eb" x="494" y="4330"/><text class="t" x="521" y="4341">Yield</text><text class="t" x="572" y="4341">: YieldData_Block_t</text><use xlink:href="#plus" x="687" y="4333"/></g>
<g id="e5"><text class="c" x="469" y="4363">0..1</text><rect class="sh" x="492" y="4358" width="348" height="39"/><rect class="ex" x="489" y="4355" width="348" height="39"/><use xlink:href="#eb" x="494" y="4361"/><text class="t" x="522" y="4372">SprdBnchmkCurve</text><text class="t" x="629" y="4372">: SpreadOrBenchmarkCurveData_Blo</text><text class="t" x="636" y="4387">ck_t</text><use xlink:href="#plus" x="840" y="4370"/></g>
<g id="e6"><text class="c" x="469" y="4406">0..*</text><rect class="sh" x="491" y="4400" width="207" height="26"/><rect class="ex" x="488" y="4397" width="207" height="26"/><use xlink:href="#eb" x="493" y="4403"/><text class="t" x="520" y="4414">RtSrc</text><text class="t" x="570" y="4414">: RateSource_Block_t</text><use xlink:href="#plus" x="698" y="4407"/></g>
<g id="e7"><text class="c" x="469" y="4438">0..*</text><rect class="sh" x="491" y="4432" width="236" height="26"/><rect class="ex" x="488" y="4429" width="236" height="26"/><use xlink:href="#eb" x="493" y="4435"/><text class="t" x="520" y="4446">SecSizesGrp</text><text class="t" x="594" y="4446">: SecSizesGrp_Block_t</text><use xlink:href="#plus" x="727" y="4439"/></g>
<g id="e8"><text class="c" x="469" y="4470">0..*</text><rect class="sh" x="491" y="4464" width="227" height="26"/><rect class="ex" x="488" y="4461" width="227" height="26"/><use xlink:href="#eb" x="493" y="4467"/><text class="t" x="520" y="4478">StatsIndGrp</text><text class="t" x="590" y="4478">: StatsIndGrp_Block_t</text><use xlink:href="#plus" x="718" y="4471"/></g>
<g id="e9"><text class="c" x="469" y="4502">0..*</text><rect class="sh" x="491" y="4496" width="182" height="26"/><rect class="ex" x="488" y="4493" width="182" height="26"/><use xlink:href="#eb" x="493" y="4499"/><text class="t" x="520" y="4510">Pty</text><text class="t" x="570" y="4510">: Parties_Block_t</text><use xlink:href="#plus" x="673" y="4503"/></g>
</svg>
